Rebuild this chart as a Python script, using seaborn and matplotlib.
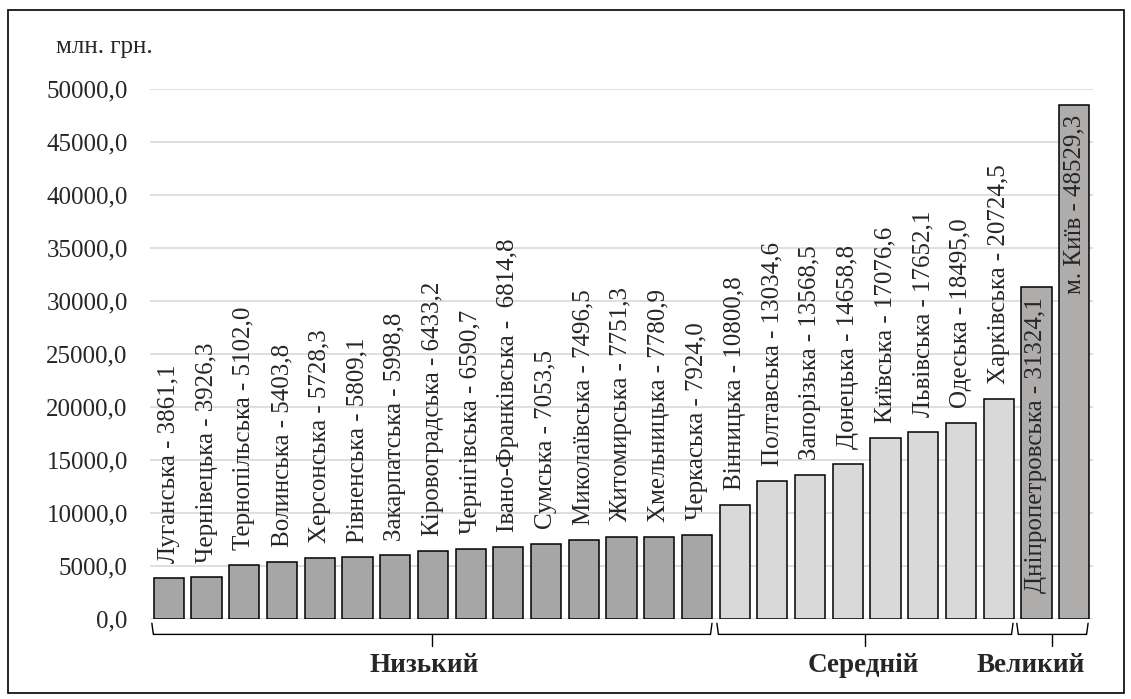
import numpy as np
import pandas as pd
import matplotlib
matplotlib.use("Agg")
import matplotlib.pyplot as plt
import matplotlib.transforms as mtransforms
from matplotlib.patches import Rectangle
import seaborn as sns

# regions and values (млн. грн.)
regions = ['Луганська', 'Чернівецька', 'Тернопільська', 'Волинська', 'Херсонська',
           'Рівненська', 'Закарпатська', 'Кіровоградська', 'Чернігівська',
           'Івано-Франківська', 'Сумська', 'Миколаївська', 'Житомирська',
           'Хмельницька', 'Черкаська', 'Вінницька', 'Полтавська', 'Запорізька',
           'Донецька', 'Київська', 'Львівська', 'Одеська', 'Харківська',
           'Дніпропетровська', 'м. Київ']
values = [3861.1, 3926.3, 5102.0, 5403.8, 5728.3, 5809.1, 5998.8, 6433.2, 6590.7,
          6814.8, 7053.5, 7496.5, 7751.3, 7780.9, 7924.0, 10800.8, 13034.6, 13568.5,
          14658.8, 17076.6, 17652.1, 18495.0, 20724.5, 31324.1, 48529.3]
groups = ['Низький'] * 15 + ['Середній'] * 8 + ['Великий'] * 2
group_colors = {'Низький': '#A6A6A6', 'Середній': '#D9D9D9', 'Великий': '#AFABAB'}
yticks = np.arange(0, 50001, 5000)


def fmt(v):
    return f"{v:.1f}".replace('.', ',')


df = pd.DataFrame({'region': regions, 'value': values, 'group': groups})

sns.set_theme(style="white")
plt.rcParams['font.family'] = ['Liberation Serif', 'DejaVu Serif']

fig = plt.figure(figsize=(11.31, 6.99), dpi=100)
ax = fig.add_axes([0.1326, 0.1144, 0.8338, 0.7583])

sns.barplot(data=df, x='region', y='value', hue='group', palette=group_colors,
            dodge=False, width=0.8, edgecolor='black', linewidth=1.1,
            legend=False, ax=ax, zorder=3)

ax.set_ylim(0, 50000)
ax.set_xlim(-0.5, len(regions) - 0.5)
ax.set_yticks(yticks)
ax.set_yticklabels([fmt(t) for t in yticks], fontsize=18)
ax.tick_params(axis='y', length=0, pad=16)
ax.set_xticks([])
ax.set_xlabel('')
ax.set_ylabel('')
ax.yaxis.grid(True, color='#D9D9D9', linewidth=1.2, zorder=0)
ax.set_axisbelow(True)
for s in ax.spines.values():
    s.set_visible(False)

# bar labels
for i, (r, v, g) in enumerate(zip(regions, values, groups)):
    sep = ' -  ' if r == 'Івано-Франківська' else ' - '
    lab = f"{r}{sep}{fmt(v)}"
    if g == 'Великий':
        ax.text(i, v - 1000, lab, rotation=90, ha='center', va='top',
                fontsize=18, zorder=4)
    else:
        ax.text(i, v + 1400, lab, rotation=90, ha='center', va='bottom',
                fontsize=18, zorder=4)

ax.text(0.003, 1.079, 'млн. грн.', transform=ax.transAxes, ha='right',
        va='center', fontsize=18)

# braces under groups
trans = mtransforms.blended_transform_factory(ax.transData, ax.transAxes)
spans = [('Низький', -0.45, 14.4, 6.76), ('Середній', 14.53, 22.38, 18.4),
         ('Великий', 22.48, 24.37, 22.85)]
for name, x0, x1, xt in spans:
    xm = (x0 + x1) / 2
    yt, yb, ytip = -0.008, -0.029, -0.05
    ax.plot([x0, x0 + 0.04, x1 - 0.04, x1], [yt, yb, yb, yt], color='black',
            lw=1.0, transform=trans, clip_on=False)
    ax.plot([xm, xm], [yb, ytip], color='black', lw=1.0, transform=trans,
            clip_on=False)
    ax.text(xt, -0.087, name, transform=trans, ha='center', va='center',
            fontsize=19.5, fontweight='bold')

# outer frame
fig.patches.append(Rectangle((0.007, 0.0086), 0.9867, 0.977, transform=fig.transFigure,
                             fill=False, edgecolor='black', linewidth=1.2))

fig.savefig('out.png', dpi=100)
